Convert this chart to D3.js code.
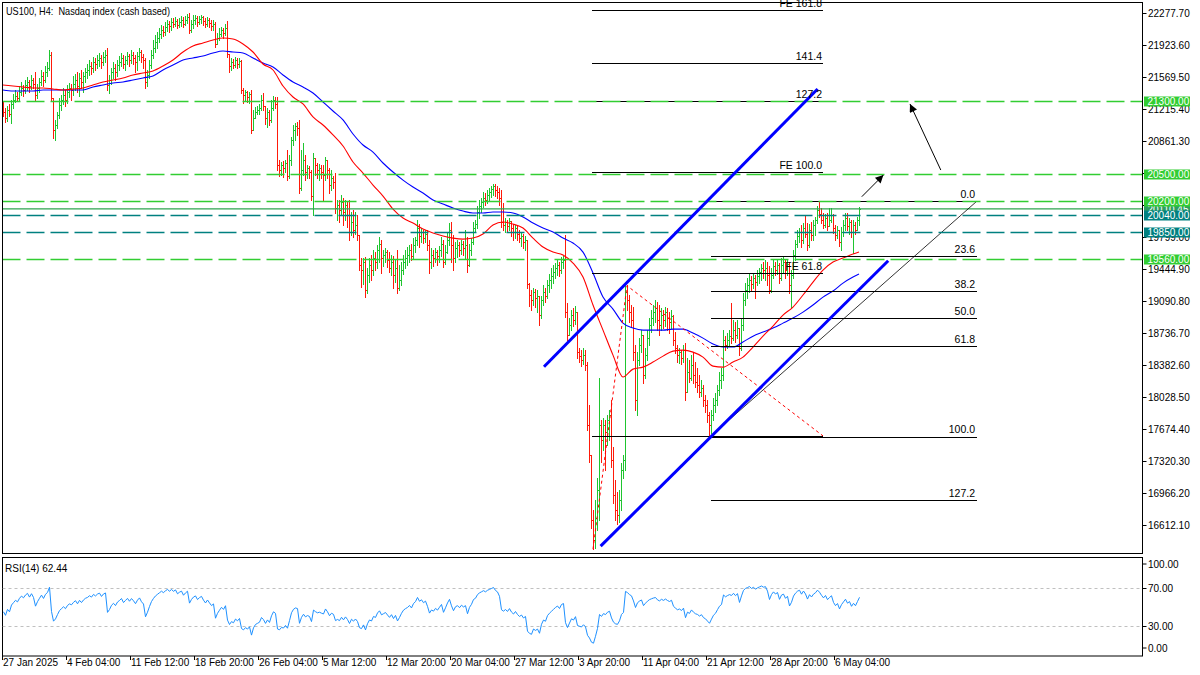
<!DOCTYPE html>
<html><head><meta charset="utf-8">
<script src="https://cdn.jsdelivr.net/npm/d3@7"></script>
<style>
body{margin:0;background:#fff;}
svg{display:block;font-family:"Liberation Sans",Arial,sans-serif;}
</style>
</head><body>
<svg id="c" width="1200" height="675"></svg>
<script>
// ---------------- DATA ----------------
const chartTitle = "US100, H4:  Nasdaq index (cash based)";
const firstOpen = 21260;
const closes = [
21182,21116,21204,21160,21271,21315,21359,21337,21404,21448,
21426,21481,21514,21470,21536,21492,21370,21448,21514,21581,
21536,21625,21669,21813,21337,20983,21038,21149,21260,21315,
21370,21315,21404,21448,21426,21492,21536,21470,21559,21514,
21581,21625,21647,21691,21669,21736,21713,21758,21780,21736,
21791,21813,21481,21536,21625,21669,21625,21702,21736,21780,
21713,21758,21802,21758,21813,21780,21736,21802,21846,21791,
21758,21514,21592,21702,21813,21891,21957,22001,22046,22090,
22068,22123,22156,22134,22178,22156,22190,22145,22178,22201,
22156,22201,22234,22090,22156,22201,22223,22178,22212,22234,
22190,22156,22201,22167,22134,22156,21935,22001,22046,22090,
22057,22112,21824,21691,21736,21702,21758,21713,21747,21426,
21370,21404,21348,21381,20983,21116,21182,21204,21226,21315,
21249,21116,21182,21094,21226,21315,21271,20595,20540,20595,
20562,20618,20474,20651,20872,20983,21027,21005,20341,20540,
20651,20518,20562,20518,20252,20673,20595,20540,20562,20518,
20485,20651,20540,20374,20452,20407,20119,20153,20097,20186,
20075,20153,20042,19854,19964,19876,19931,19820,19488,19433,
19522,19212,19378,19488,19433,19566,19522,19654,19721,19566,
19599,19632,19544,19455,19522,19378,19455,19234,19322,19433,
19522,19566,19599,19654,19588,19710,19765,19898,19809,19854,
19787,19832,19710,19522,19599,19566,19632,19588,19654,19721,
19522,19632,19765,19876,19710,19566,19677,19710,19654,19721,
19677,19710,19488,19654,19743,19898,19942,20075,20142,20186,
20230,20208,20263,20297,20330,20363,20319,20297,20230,19964,
19931,19964,19920,19975,19898,19854,19898,19832,19787,19809,
19743,19765,19278,19156,19101,19190,19123,19145,18935,19101,
19190,19145,19267,19322,19367,19411,19455,19488,19433,19522,
19544,18968,18714,18824,18935,18880,18968,18525,18481,18437,
18492,18381,17717,17385,16666,16444,16688,16998,17717,17551,
17717,17640,17773,17828,17330,16942,16776,16721,16887,17219,
17330,19190,19101,18968,18880,18525,17994,18437,18603,18714,
18271,18492,18680,18824,18902,18968,19012,18880,18824,18935,
18880,18968,18902,18857,18924,18658,18570,18492,18525,18459,
18547,18083,18304,18237,18381,18271,18193,18160,18083,18127,
17994,17939,17828,17717,17828,17939,17994,18105,18215,18271,
18658,18603,18658,18702,18680,18769,18714,18791,18570,18824,
19101,19212,19267,19322,19278,19344,19300,19367,19411,19455,
19433,19455,19378,19212,19378,19477,19433,19488,19344,19488,
19522,19433,19500,19267,19378,19599,19721,19809,19854,19765,
19898,19832,19710,19876,19820,19931,19987,20097,20053,19987,
19931,20009,19920,19987,20042,19898,19820,19876,19743,19854,
19931,20009,19920,19964,19854,19931,19876,19987,20110];
const highs = [
21293,21226,21249,21271,21315,21381,21426,21404,21470,21514,
21481,21536,21570,21536,21592,21559,21625,21492,21559,21647,
21625,21691,21736,21868,21846,21315,21094,21182,21337,21370,
21448,21426,21481,21503,21492,21581,21603,21625,21614,21647,
21625,21669,21713,21758,21736,21791,21780,21813,21835,21813,
21846,21868,21891,21592,21669,21736,21713,21758,21802,21835,
21813,21802,21846,21824,21868,21846,21813,21846,21891,21868,
21824,21780,21647,21758,21868,21979,22035,22068,22112,22145,
22134,22178,22201,22190,22223,22223,22234,22212,22223,22245,
22234,22245,22267,22278,22201,22256,22256,22245,22245,22256,
22245,22223,22234,22223,22201,22201,22178,22057,22112,22123,
22112,22156,22190,21802,21780,21769,21791,21780,21780,21758,
21448,21426,21415,21404,21426,21204,21237,21249,21271,21370,
21392,21249,21226,21204,21315,21359,21348,21348,20651,20629,
20640,20651,20761,20706,20905,21038,21060,21071,21094,20761,
20839,20706,20595,20584,20540,20728,20651,20618,20607,20595,
20595,20684,20618,20562,20540,20474,20507,20208,20208,20263,
20230,20208,20186,20208,20075,20097,20075,20042,19787,19566,
19566,19577,19455,19566,19599,19654,19632,19710,19798,19765,
19654,19677,19654,19632,19599,19588,19544,19654,19488,19522,
19599,19654,19688,19710,19721,19787,19798,19987,19942,19898,
19876,19876,19876,19765,19677,19654,19677,19654,19699,19798,
19765,19710,19843,19953,19964,19820,19743,19765,19743,19765,
19754,19876,19798,19721,19787,19964,19987,20142,20208,20230,
20297,20285,20319,20341,20363,20385,20385,20363,20341,20319,
20175,20009,19987,20009,19964,19942,19931,19920,19876,19854,
19832,19809,19710,19289,19212,19234,19223,19212,19134,19145,
19267,19234,19322,19389,19455,19488,19511,19544,19522,19577,
19588,19820,19068,18902,18990,19012,19035,18935,18570,18547,
18570,18547,18415,17939,17385,16776,16887,17130,18237,17773,
17795,17773,17828,17883,17994,17474,17108,16976,16998,17297,
17385,19289,19267,19156,19046,19023,18603,18525,18680,18769,
18680,18570,18769,18902,18990,19046,19101,19079,19046,19012,
18990,19023,19012,18968,18990,18935,18747,18603,18570,18547,
18603,18625,18459,18437,18492,18525,18415,18348,18271,18215,
18160,18049,17994,17861,17883,18016,18071,18160,18304,18348,
18769,18702,18736,18769,19068,18880,18857,18880,18769,18902,
19178,19289,19344,19389,19367,19400,19378,19433,19455,19500,
19522,19544,19522,19477,19455,19544,19522,19544,19511,19566,
19588,19544,19544,19522,19433,19654,19765,19876,19898,19931,
19953,20042,19953,19942,19964,19987,20020,20142,20197,20119,
20064,20053,20064,20119,20119,20053,19931,19920,19876,19909,
19987,20064,20064,20009,19987,19987,19964,20020,20131];
const lows = [
21138,21071,21082,21138,21060,21226,21293,21304,21315,21370,
21359,21392,21426,21404,21437,21448,21315,21337,21404,21481,
21470,21514,21581,21647,21315,20894,20872,21005,21116,21204,
21271,21249,21282,21348,21315,21370,21426,21404,21359,21448,
21404,21514,21559,21592,21603,21625,21647,21669,21691,21669,
21702,21736,21426,21392,21492,21559,21536,21581,21647,21691,
21669,21647,21713,21691,21725,21713,21625,21647,21758,21736,
21669,21448,21470,21559,21669,21780,21846,21891,21957,22001,
22023,22035,22079,22068,22090,22123,22134,22112,22123,22134,
22123,22145,22167,22057,22068,22112,22156,22134,22156,22167,
22145,22123,22134,22123,22090,22090,21902,21946,21979,22023,
22001,22035,21791,21625,21647,21669,21680,21669,21680,21392,
21282,21315,21293,21282,20950,21005,21138,21160,21160,21204,
21204,21049,21016,21038,21071,21204,21226,20540,20474,20485,
20463,20518,20429,20452,20595,20817,20872,20928,20285,20319,
20485,20429,20452,20452,20208,20042,20485,20452,20429,20452,
20208,20429,20452,20285,20319,20341,20064,19987,19964,20042,
19931,19987,19909,19765,19820,19798,19832,19765,19433,19245,
19278,19134,19178,19300,19322,19378,19433,19455,19522,19400,
19477,19522,19466,19411,19378,19234,19300,19178,19212,19267,
19389,19455,19488,19522,19544,19566,19632,19710,19688,19743,
19732,19743,19654,19400,19455,19477,19522,19488,19522,19588,
19466,19500,19621,19710,19522,19433,19522,19577,19588,19610,
19599,19566,19411,19477,19599,19721,19854,19898,20009,20075,
20131,20153,20175,20208,20241,20263,20252,20230,20153,19909,
19876,19854,19865,19876,19809,19765,19787,19765,19743,19699,
19677,19654,19234,19035,18990,19046,19023,18968,18824,18902,
19046,19079,19123,19190,19234,19289,19344,19378,19367,19400,
19455,18913,18658,18725,18769,18813,18835,18459,18415,18370,
18392,18326,17662,17308,16577,16345,16356,16555,16666,17308,
17440,17219,17496,17551,17252,16854,16666,16621,16643,16776,
17130,17219,18990,18857,18802,18437,17883,17828,18381,18525,
18182,18237,18437,18603,18747,18824,18857,18769,18714,18769,
18791,18813,18769,18736,18791,18603,18514,18415,18404,18392,
18415,17994,18160,18193,18215,18182,18138,18083,18027,18038,
17928,17861,17750,17595,17629,17773,17861,17939,18049,18127,
18215,18547,18570,18592,18625,18658,18636,18680,18492,18547,
18769,19046,19123,19190,19212,19234,19123,19267,19289,19322,
19344,19322,19267,19178,19190,19344,19378,19389,19289,19322,
19411,19344,19378,19178,19012,19344,19544,19688,19743,19688,
19732,19798,19654,19688,19765,19765,19820,19953,20020,19953,
19898,19909,19876,19920,19964,19843,19765,19787,19699,19654,
19809,19876,19876,19832,19798,19621,19832,19876,19931];

// moving averages, one value every maStep bars
const maStep = 5;
const maRed = [
21481,21470,21459,21448,21448,21437,21426,21437,21448,21481,
21514,21536,21559,21592,21614,21636,21691,21758,21846,21913,
21946,21979,22001,21990,21935,21846,21713,21647,21470,21348,
21271,21127,21038,20928,20806,20629,20507,20374,20252,20108,
20009,19953,19887,19843,19810,19787,19776,19787,19832,19931,
19965,19942,19898,19787,19688,19632,19599,19511,19356,19046,
18769,18492,18249,18337,18359,18415,18481,18536,18547,18525,
18470,18370,18359,18415,18470,18581,18702,18813,18935,19024,
19157,19300,19433,19522,19566,19610,19632];
const maBlue = [
21426,21415,21415,21415,21426,21426,21426,21426,21426,21459,
21481,21503,21514,21536,21559,21581,21647,21702,21758,21780,
21802,21835,21857,21846,21835,21780,21725,21680,21592,21514,
21459,21393,21293,21193,21094,20939,20817,20739,20618,20518,
20429,20352,20286,20208,20164,20120,20086,20064,20064,20075,
20075,20064,20020,19953,19898,19854,19787,19732,19632,19400,
19134,19001,18846,18791,18769,18769,18769,18780,18780,18736,
18680,18614,18581,18581,18637,18702,18747,18791,18846,18902,
18968,19046,19134,19201,19289,19356,19389];

const priceTicks = [22277.7,21923.6,21569.5,21215.4,20861.3,20507.2,20153.1,19799.0,19444.9,19090.8,18736.7,18382.6,18028.5,17674.4,17320.3,16966.2,16612.1];
const dateLabels = ["27 Jan 2025","4 Feb 04:00","11 Feb 12:00","18 Feb 20:00","26 Feb 04:00","5 Mar 12:00","12 Mar 20:00","20 Mar 04:00","27 Mar 12:00","3 Apr 20:00","11 Apr 04:00","21 Apr 12:00","28 Apr 20:00","6 May 04:00"];
const dateStep = 32;

const levelPrices = [21300, 20500, 20200, 20040, 19850, 19560];
const levelGroup  = ["target","target","target","pivot","pivot","target"];
const currentPrice = 20110.45;

const fibIdx = [354, 487];            // 100 point, 0 point
const fibPrices = [17598, 20197];
const fibLevels = [0, 23.6, 38.2, 50, 61.8, 100, 127.2];
const fibLabels = ["0.0","23.6","38.2","50.0","61.8","100.0","127.2"];

const feIdx = [295, 312, 410];
const fePrices = [16345, 19260, 17598];
const feLevels = [0, 61.8, 100, 127.2, 141.4, 161.8];
const feLabels = ["", "FE 61.8", "FE 100.0", "127.2", "141.4", "FE 161.8"];

const trendIdx = [[270.5, 407.3], [298.8, 442.6]];
const trendPrices = [[18364, 21437], [16378, 19536]];

const arrowFromIdx = [429.4, 468.9], arrowFromPrice = [20245, 20540];
const arrowToIdx = [440.2, 453.5], arrowToPrice = [20485, 21271];

const rsiPeriod = 14;
const rsiLevels = [70, 30];
const rsiTicks = [100, 70, 30, 0];
const rsiLabel = "RSI(14) 62.44";

// ---------------- DRAW ----------------
const svg = d3.select("#c");
const N = closes.length;
const L = 2.5, R = 1142.5, T = 2.5, B = 553.5;
const rT = 557.5, rB = 656;
const x = d3.scaleLinear().domain([0, N - 1]).range([3, 3 + 2 * (N - 1)]);
const y = d3.scaleLinear().domain([16612.1, 22277.7]).range([525, 13]);
const yR = d3.scaleLinear().domain([0, 100]).range([655, 559]);
const UP = "#1fc52f", DN = "#ff1a0a";
const TAG_GREEN = "#32cd32", TAG_TEAL = "#008080";

svg.append("rect").attr("width", 1200).attr("height", 675).attr("fill", "#fff");
const defs = svg.append("defs");
defs.append("clipPath").attr("id", "mainClip").append("rect")
  .attr("x", L).attr("y", T).attr("width", R - L).attr("height", B - T);
defs.append("clipPath").attr("id", "rsiClip").append("rect")
  .attr("x", L).attr("y", rT).attr("width", R - L).attr("height", rB - rT);
defs.append("marker").attr("id", "ah").attr("viewBox", "0 0 10 10")
  .attr("refX", 10).attr("refY", 5).attr("markerWidth", 11).attr("markerHeight", 8)
  .attr("markerUnits", "userSpaceOnUse").attr("orient", "auto")
  .append("path").attr("d", "M0,0 L10,5 L0,10 z").attr("fill", "#000");

const main = svg.append("g").attr("clip-path", "url(#mainClip)");

// OHLC bars: high-low stem with open tick (left) and close tick (right)
const barG = main.append("g").attr("shape-rendering", "crispEdges").attr("fill", "none");
for (let i = 0; i < N; i++) {
  const o = i ? closes[i - 1] : firstOpen, c = closes[i];
  const hi = Math.max(highs[i], o, c), lo = Math.min(lows[i], o, c);
  const px = Math.round(x(i)) + 0.5;
  const yo = Math.round(y(o)) + 0.5, yc = Math.round(y(c)) + 0.5;
  const d = `M${px},${Math.round(y(hi))}V${Math.round(y(lo)) + 1}` +
            `M${px - 1},${yo}H${px}M${px},${yc}H${px + 1}`;
  barG.append("path").attr("d", d).attr("stroke", c >= o ? UP : DN).attr("stroke-width", 1);
}

// moving averages
const maLine = d3.line().x((d, k) => x(Math.min(k * maStep, N - 1))).y(d => y(d)).curve(d3.curveMonotoneX);
main.append("path").attr("d", maLine(maBlue)).attr("fill", "none").attr("stroke", "#0000ff").attr("stroke-width", 1.1);
main.append("path").attr("d", maLine(maRed)).attr("fill", "none").attr("stroke", "#ff0000").attr("stroke-width", 1.1);

// current price line
main.append("line").attr("x1", L).attr("x2", R)
  .attr("y1", y(currentPrice)).attr("y2", y(currentPrice))
  .attr("stroke", "#2ea44f").attr("stroke-width", 1.2);

// Fibonacci expansion lines
const feRange = fePrices[1] - fePrices[0];
feLevels.forEach(lv => {
  const p = fePrices[2] + lv / 100 * feRange;
  const yy = Math.round(y(p)) + 0.5;
  main.append("line").attr("x1", x(feIdx[0]) - 1).attr("x2", x(feIdx[2]))
    .attr("y1", yy).attr("y2", yy).attr("stroke", "#000").attr("stroke-width", 1).attr("shape-rendering", "crispEdges");
});
// Fibonacci retracement lines
const fibRange = fibPrices[1] - fibPrices[0];
fibLevels.forEach(lv => {
  const p = fibPrices[1] - lv / 100 * fibRange;
  const yy = Math.round(y(p)) + 0.5 + (lv === 100 ? 1 : 0);
  main.append("line").attr("x1", x(fibIdx[0])).attr("x2", x(fibIdx[1]))
    .attr("y1", yy).attr("y2", yy).attr("stroke", "#000").attr("stroke-width", 1).attr("shape-rendering", "crispEdges");
});
main.append("line").attr("x1", x(fibIdx[0])).attr("y1", y(fibPrices[0]))
  .attr("x2", x(fibIdx[1])).attr("y2", y(fibPrices[1])).attr("stroke", "#000").attr("stroke-width", 0.8);

// horizontal dashed levels
levelPrices.forEach((p, k) => {
  const yy = Math.round(y(p)) + 0.5;
  main.append("line").attr("x1", L).attr("x2", R).attr("y1", yy).attr("y2", yy)
    .attr("stroke", levelGroup[k] === "target" ? TAG_GREEN : TAG_TEAL)
    .attr("stroke-width", 1.4).attr("stroke-dasharray", "18,6");
});

// FE dashed path A-B-C
main.append("path")
  .attr("d", d3.line()(feIdx.map((v, k) => [x(v), y(fePrices[k])])))
  .attr("fill", "none").attr("stroke", "#ff0000").attr("stroke-width", 1).attr("stroke-dasharray", "3,3");

// channel lines
trendIdx.forEach((t, k) => {
  main.append("line").attr("x1", x(t[0])).attr("y1", y(trendPrices[k][0]))
    .attr("x2", x(t[1])).attr("y2", y(trendPrices[k][1]))
    .attr("stroke", "#0000ff").attr("stroke-width", 3);
});

// arrows
arrowFromIdx.forEach((a, k) => {
  main.append("line").attr("x1", x(a)).attr("y1", y(arrowFromPrice[k]))
    .attr("x2", x(arrowToIdx[k])).attr("y2", y(arrowToPrice[k]))
    .attr("stroke", "#000").attr("stroke-width", 1).attr("marker-end", "url(#ah)");
});

// labels of the tools
const lbl = svg.append("g").attr("font-size", 10.5).attr("fill", "#000").attr("text-anchor", "end");
feLevels.forEach((lv, k) => {
  if (!feLabels[k]) return;
  const p = fePrices[2] + lv / 100 * feRange;
  lbl.append("text").attr("x", x(feIdx[2]) - 1).attr("y", y(p) - 3).text(feLabels[k]);
});
fibLevels.forEach((lv, k) => {
  const p = fibPrices[1] - lv / 100 * fibRange;
  lbl.append("text").attr("x", x(fibIdx[1]) - 2).attr("y", y(p) - 3).text(fibLabels[k]);
});

// title
svg.append("text").attr("x", 6).attr("y", 15).attr("font-size", 10.5)
  .attr("textLength", 164).attr("lengthAdjust", "spacingAndGlyphs")
  .style("white-space", "pre").text(chartTitle);

// frames
svg.append("rect").attr("x", L).attr("y", T).attr("width", R - L).attr("height", B - T)
  .attr("fill", "none").attr("stroke", "#000").attr("stroke-width", 1);
svg.append("rect").attr("x", L).attr("y", rT).attr("width", R - L).attr("height", rB - rT)
  .attr("fill", "none").attr("stroke", "#000").attr("stroke-width", 1);

// price axis
const ax = svg.append("g").attr("font-size", 10).attr("fill", "#000");
priceTicks.forEach(p => {
  const yy = Math.round(y(p)) + 0.5;
  ax.append("line").attr("x1", R).attr("x2", R + 4).attr("y1", yy).attr("y2", yy).attr("stroke", "#000");
  // a tick label fully hidden under a price tag is not drawn
  const hidden = levelPrices.concat([currentPrice]).some(q => Math.abs(y(q) - yy) < 4);
  if (!hidden) ax.append("text").attr("x", R + 5.5).attr("y", yy).attr("dy", "0.36em").text(p.toFixed(2));
});
// price tags
function tag(p, color) {
  const yy = Math.round(y(p)) + 0.5;
  ax.append("rect").attr("x", R + 1.5).attr("y", yy - 5).attr("width", 46).attr("height", 10).attr("fill", color);
  ax.append("text").attr("x", R + 5).attr("y", yy).attr("dy", "0.36em").attr("fill", "#fff").text(p.toFixed(2));
}
tag(currentPrice, "#2e9e60");
levelPrices.forEach((p, k) => tag(p, levelGroup[k] === "target" ? TAG_GREEN : TAG_TEAL));

// RSI panel
const ch = closes.map((c, i) => c - (i ? closes[i - 1] : firstOpen));
const seed = d3.mean(ch.slice(0, rsiPeriod), d => Math.abs(d)) / 2;
let ag = seed, al = seed;
const rsi = ch.map(d => {
  ag = (ag * (rsiPeriod - 1) + Math.max(d, 0)) / rsiPeriod;
  al = (al * (rsiPeriod - 1) + Math.max(-d, 0)) / rsiPeriod;
  return 100 - 100 / (1 + ag / al);
});
const rg = svg.append("g").attr("clip-path", "url(#rsiClip)");
rsiLevels.forEach(v => {
  rg.append("line").attr("x1", L).attr("x2", R).attr("y1", Math.round(yR(v)) + 0.5).attr("y2", Math.round(yR(v)) + 0.5)
    .attr("stroke", "#c0c0c0").attr("stroke-dasharray", "3,3");
});
rg.append("path").attr("d", d3.line().x((d, i) => x(i) + 0.5).y(d => yR(d))(rsi))
  .attr("fill", "none").attr("stroke", "#1e90ff").attr("stroke-width", 1);
svg.append("text").attr("x", 5).attr("y", 572).attr("font-size", 10).text(rsiLabel);
rsiTicks.forEach(v => {
  const yy = Math.round(yR(v)) + 0.5;
  const ly = Math.min(Math.max(yy, 564), 648);
  ax.append("line").attr("x1", R).attr("x2", R + 4).attr("y1", ly).attr("y2", ly).attr("stroke", "#000");
  ax.append("text").attr("x", R + 5.5).attr("y", ly).attr("dy", "0.36em").text(v.toFixed(2));
});

// time axis
dateLabels.forEach((t, k) => {
  const xx = Math.round(x(k * dateStep)) - 0.5;
  ax.append("line").attr("x1", xx).attr("x2", xx).attr("y1", rB).attr("y2", rB + 4).attr("stroke", "#000");
  ax.append("text").attr("x", xx + 0.5).attr("y", 666).text(t);
});
</script>
</body></html>
